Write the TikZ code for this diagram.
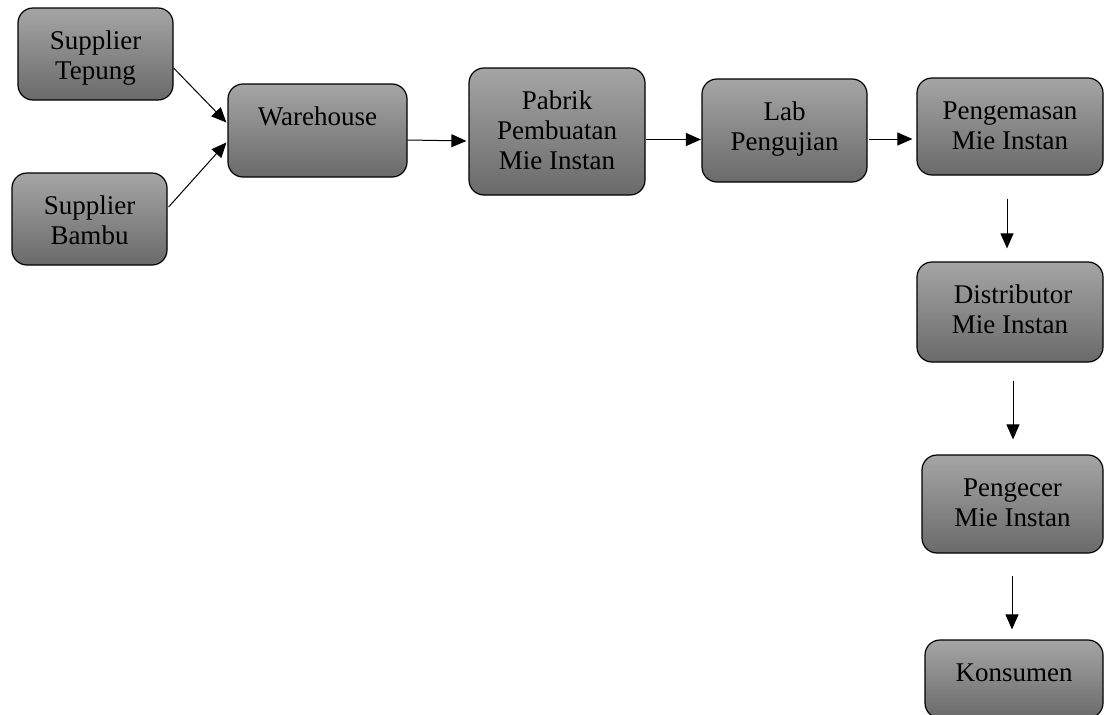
\documentclass[tikz,border=0pt]{standalone}
\usepackage{fontspec}
\setmainfont{Liberation Serif}
\usetikzlibrary{arrows.meta}
\definecolor{boxtop}{RGB}{165,165,165}
\definecolor{boxbot}{RGB}{106,106,106}
\newcommand\bxt[3]{\parbox[c][#2][t]{#1}{\centering\vspace*{22pt}\rule{0pt}{19pt}#3\par}}
\tikzset{
  flowbox/.style={draw=black, line width=1.2pt, rounded corners=15pt, inner sep=0pt,
    top color=boxtop, bottom color=boxbot, font=\fontsize{27pt}{30pt}\selectfont},
  flowarrow/.style={line width=1pt, -{Triangle[length=15pt,width=13pt]}}
}
\begin{document}
\begin{tikzpicture}[x=1pt,y=-1pt]
\useasboundingbox (0,0) rectangle (1104,715);
\node[flowbox] (tep) at (95.5,54) {\bxt{155pt}{92pt}{Supplier\\Tepung}};
\node[flowbox] (bam) at (89.5,219) {\bxt{155pt}{92pt}{Supplier\\Bambu}};
\node[flowbox] (wh) at (317.5,130.5) {\bxt{179pt}{93pt}{Warehouse}};
\node[flowbox] (pab) at (557,131.5) {\bxt{176pt}{127pt}{Pabrik\\Pembuatan\\Mie Instan}};
\node[flowbox] (lab) at (784.5,130.5) {\bxt{165pt}{103pt}{Lab\\Pengujian}};
\node[flowbox] (pen) at (1010,126.5) {\bxt{186pt}{97pt}{Pengemasan\\Mie Instan}};
\node[flowbox] (dis) at (1010,312) {\bxt{186pt}{100pt}{\hspace*{6pt}Distributor\\Mie Instan}};
\node[flowbox] (pgc) at (1012.5,504) {\bxt{181pt}{98pt}{Pengecer\\Mie Instan}};
\node[flowbox] (kon) at (1014,679) {\bxt{178pt}{78pt}{Konsumen}};

\draw[flowarrow] ([yshift=-14pt]tep.east) -- ([yshift=8pt,xshift=-1pt]wh.west);
\draw[flowarrow] ([yshift=12pt,xshift=1pt]bam.east) -- ([yshift=-12pt,xshift=-1pt]wh.west);
\draw[flowarrow, shorten >=2pt] ([yshift=-9.5pt]wh.east) -- ([yshift=-9.5pt]pab.west);
\draw[flowarrow, shorten >=0.5pt] ([yshift=-8pt]pab.east) -- ([yshift=-9pt]lab.west);
\draw[flowarrow, shorten <=1pt, shorten >=4pt] ([yshift=-8.5pt]lab.east) -- ([yshift=-12.5pt]pen.west);
\draw[flowarrow, shorten <=23pt, shorten >=13pt] ([xshift=-3pt]pen.south) -- ([xshift=-3pt]dis.north);
\draw[flowarrow, shorten <=18pt, shorten >=15pt] ([xshift=3pt]dis.south) -- ([xshift=0.5pt]pgc.north);
\draw[flowarrow, shorten <=22pt, shorten >=10pt] ([xshift=-0.5pt]pgc.south) -- ([xshift=-2pt]kon.north);
\end{tikzpicture}
\end{document}
